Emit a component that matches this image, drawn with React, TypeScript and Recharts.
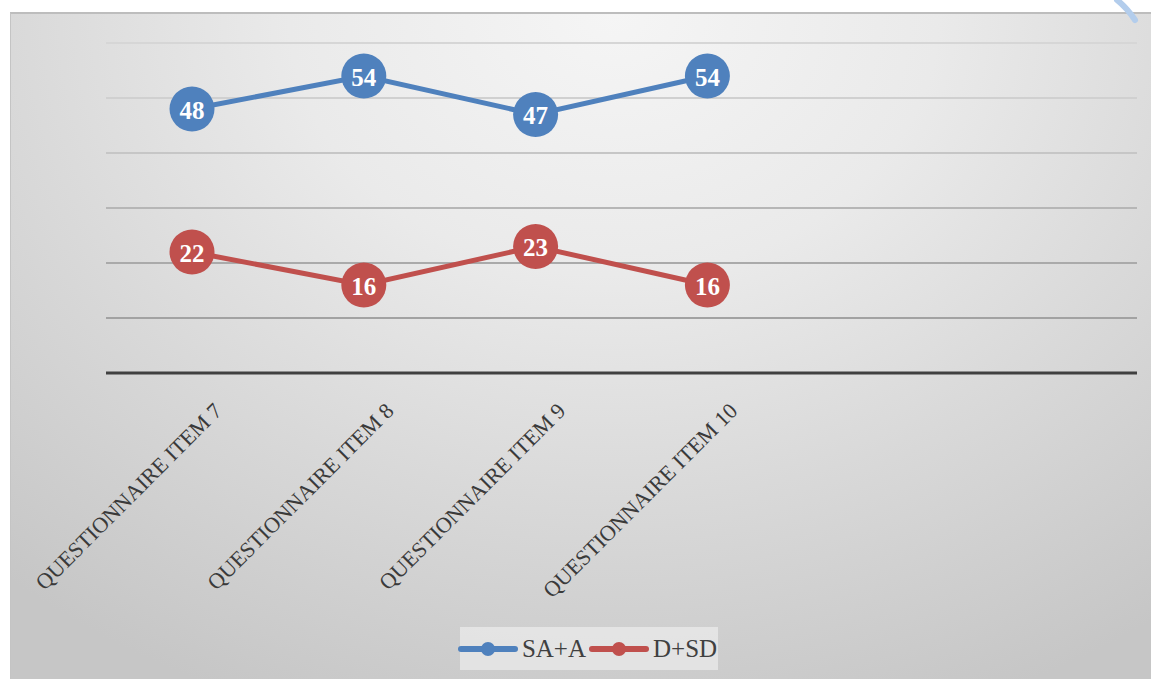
import React from "react";
import { LineChart, Line, XAxis, YAxis, ReferenceLine, Legend, LabelList } from "recharts";

const categories = [
  "QUESTIONNAIRE ITEM 7",
  "QUESTIONNAIRE ITEM 8",
  "QUESTIONNAIRE ITEM 9",
  "QUESTIONNAIRE ITEM 10",
  "",
  "",
];
const saA = [48, 54, 47, 54, null, null];
const dSd = [22, 16, 23, 16, null, null];
const yTicks = [0, 10, 20, 30, 40, 50, 60];
const seriesOrder = ["SA+A", "D+SD"];

const BLUE = "#4f81bd";
const RED = "#c0504d";
const SERIF = "'Liberation Serif', 'DejaVu Serif', serif";
const GRID_STYLE: Record<number, string> = {
  10: "#a2a2a2",
  20: "#aaaaaa",
  30: "#b6b6b6",
  40: "#c6c6c6",
  50: "#d0d0d0",
  60: "#d6d6d6",
};

const data = categories.map((c, i) => ({ cat: c, sa: saA[i], dsd: dSd[i] }));

const Tick = (props: any) => {
  const { x, y, payload } = props;
  if (!payload || !payload.value) return null;
  return (
    <text
      x={0}
      y={0}
      transform={`translate(${x + 26},${y + 34}) rotate(-45)`}
      textAnchor="end"
      dominantBaseline="central"
      fontFamily={SERIF}
      fontSize={22}
      fill="#3a3a3a"
    >
      {payload.value}
    </text>
  );
};

const makeBubble = (color: string) => (props: any) => {
  const { x, y, value } = props;
  if (value === null || value === undefined) return null;
  return (
    <g>
      <circle cx={x} cy={y} r={22.5} fill={color} />
      <text
        x={x}
        y={y + 1}
        textAnchor="middle"
        dominantBaseline="central"
        fontFamily={SERIF}
        fontWeight="bold"
        fontSize={25}
        fill="#ffffff"
      >
        {value}
      </text>
    </g>
  );
};

const LegendContent = (props: any) => {
  const payload = [...(props.payload || [])].sort(
    (a: any, b: any) => seriesOrder.indexOf(a.value) - seriesOrder.indexOf(b.value)
  );
  return (
    <div
      style={{
        display: "flex",
        alignItems: "center",
        justifyContent: "center",
        height: 43,
        background: "rgba(236,236,236,0.7)",
        fontFamily: SERIF,
        fontSize: 25,
        color: "#404040",
      }}
    >
      {payload.map((p: any) => (
        <div key={p.value} style={{ display: "flex", alignItems: "center", marginRight: 3 }}>
          <svg width={60} height={16} style={{ marginRight: 4 }}>
            <line x1={3} y1={8} x2={57} y2={8} stroke={p.color} strokeWidth={6} strokeLinecap="round" />
            <circle cx={30} cy={8} r={7} fill={p.color} />
          </svg>
          <span>{p.value}</span>
        </div>
      ))}
    </div>
  );
};

export default function App() {
  return (
    <div
      style={{
        position: "absolute",
        left: 0,
        top: 0,
        width: 1151,
        height: 679,
        background: "#ffffff",
        overflow: "hidden",
      }}
    >
      <div
        style={{
          position: "absolute",
          left: 10,
          top: 12,
          width: 1160,
          height: 680,
          boxSizing: "border-box",
          borderTop: "2px solid #bdbdbd",
          borderLeft: "1px solid #c4c4c4",
          background:
            "radial-gradient(ellipse 80% 110% at 52% 0%, #f5f5f5 0%, #eaeaea 35%, #d9d9d9 65%, #c6c6c6 100%)",
        }}
      />
      <svg style={{ position: "absolute", left: 1105, top: 0 }} width={46} height={24}>
        <path d="M 12 0 Q 22 8 30 20" stroke="#b3cdec" strokeWidth={6} fill="none" strokeLinecap="round" />
      </svg>
      <div style={{ position: "absolute", left: 0, top: 0 }}>
        <LineChart
          width={1151}
          height={679}
          data={data}
          margin={{ top: 43, right: 14, left: 106, bottom: 0 }}
        >
          <YAxis
            domain={[0, 60]}
            ticks={yTicks}
            width={0}
            tick={false}
            axisLine={false}
            tickLine={false}
          />
          <XAxis
            dataKey="cat"
            interval={0}
            height={263}
            padding={{ left: 86, right: 86 }}
            tick={<Tick />}
            tickLine={false}
            tickSize={0}
            tickMargin={0}
            axisLine={{ stroke: "#404040", strokeWidth: 3 }}
          />
          {yTicks
            .filter((t) => t > 0)
            .map((t) => (
              <ReferenceLine key={t} y={t} stroke={GRID_STYLE[t]} strokeWidth={2} />
            ))}
          <Legend
            verticalAlign="bottom"
            height={43}
            content={<LegendContent />}
            wrapperStyle={{ left: 460, top: 627, width: 258, height: 43 }}
          />
          <Line
            type="linear"
            dataKey="sa"
            name="SA+A"
            stroke={BLUE}
            strokeWidth={5}
            dot={false}
            isAnimationActive={false}
          >
            <LabelList dataKey="sa" content={makeBubble(BLUE)} />
          </Line>
          <Line
            type="linear"
            dataKey="dsd"
            name="D+SD"
            stroke={RED}
            strokeWidth={5}
            dot={false}
            isAnimationActive={false}
          >
            <LabelList dataKey="dsd" content={makeBubble(RED)} />
          </Line>
        </LineChart>
      </div>
    </div>
  );
}
